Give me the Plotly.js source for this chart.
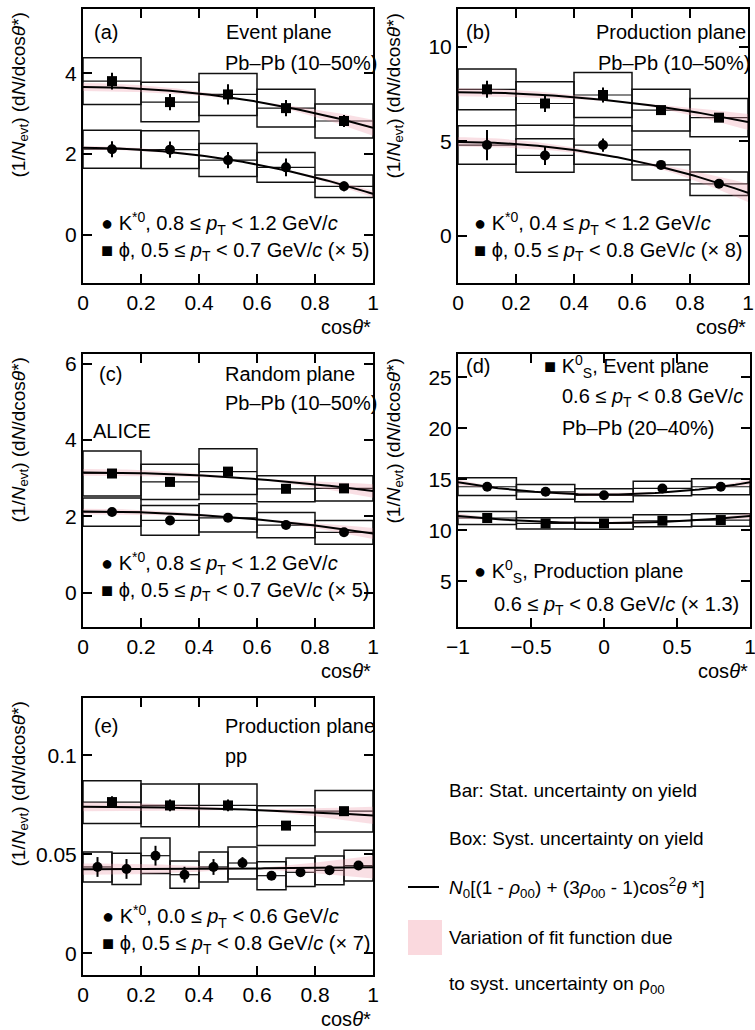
<!DOCTYPE html>
<html><head><meta charset="utf-8">
<script src="https://cdn.plot.ly/plotly-3.0.1.min.js"></script>
<style>html,body{margin:0;padding:0;background:#fff;} #chart{width:755px;height:1030px;}</style>
</head><body><div id="chart"></div>
<script>
// ---------------- DATA ----------------
// bin centres / widths
const bins5 = [0.1, 0.3, 0.5, 0.7, 0.9];
const binWidth5 = 0.2;
const bins10 = [0.05, 0.15, 0.25, 0.35, 0.45, 0.55, 0.65, 0.75, 0.85, 0.95];
const binWidth10 = 0.1;
const binsD = [-0.8, -0.4, 0, 0.4, 0.8];
const binWidthD = 0.4;

// (a) Event plane, Pb-Pb 10-50%
const aKstar = [2.12, 2.11, 1.85, 1.67, 1.20];
const aKstarStat = [0.20, 0.20, 0.20, 0.22, 0.12];
const aKstarSyst = [0.47, 0.47, 0.41, 0.37, 0.28];
const aPhi = [3.81, 3.29, 3.48, 3.14, 2.82];
const aPhiStat = [0.21, 0.20, 0.25, 0.20, 0.15];
const aPhiSyst = [0.58, 0.49, 0.52, 0.47, 0.42];
const aKstarFit = [2.66, 0.19, 0.015];   // N0, rho00, syst(rho00)
const aPhiFit = [4.99, 0.266, 0.02];

// (b) Production plane, Pb-Pb 10-50%
const bKstar = [4.80, 4.25, 4.80, 3.75, 2.75];
const bKstarStat = [0.80, 0.50, 0.35, 0.15, 0.10];
const bKstarSyst = [1.02, 0.89, 1.02, 0.80, 0.62];
const bPhi = [7.75, 7.00, 7.45, 6.65, 6.25];
const bPhiStat = [0.45, 0.45, 0.40, 0.20, 0.15];
const bPhiSyst = [1.08, 1.15, 1.19, 1.10, 1.01];
const bKstarFit = [6.1, 0.186, 0.04];
const bPhiFit = [10.6, 0.284, 0.02];

// (c) Random plane, Pb-Pb 10-50%
const cKstar = [2.11, 1.89, 1.96, 1.77, 1.58];
const cKstarStat = [0.06, 0.06, 0.06, 0.05, 0.05];
const cKstarSyst = [0.37, 0.39, 0.37, 0.33, 0.31];
const cPhi = [3.12, 2.90, 3.17, 2.72, 2.73];
const cPhiStat = [0.08, 0.08, 0.08, 0.07, 0.07];
const cPhiSyst = [0.59, 0.46, 0.60, 0.34, 0.33];
const cKstarFit = [2.90, 0.267, 0.025];
const cPhiFit = [4.48, 0.297, 0.02];

// (d) K0S, Pb-Pb 20-40%
const dProd = [14.27, 13.77, 13.43, 14.10, 14.27];
const dProdStat = [0.12, 0.12, 0.12, 0.12, 0.12];
const dProdSyst = [0.87, 0.72, 0.63, 0.72, 0.78];
const dEvent = [11.20, 10.67, 10.67, 10.93, 11.00];
const dEventStat = [0.10, 0.10, 0.10, 0.10, 0.10];
const dEventSyst = [0.63, 0.55, 0.57, 0.58, 0.62];
const dProdFit = [20.85, 0.3525, 0.007];
const dEventFit = [16.40, 0.3476, 0.008];

// (e) Production plane, pp
const eKstar = [0.0436, 0.0426, 0.0493, 0.0397, 0.0436, 0.0456, 0.0392, 0.0409, 0.0419, 0.0443];
const eKstarStat = [0.005, 0.005, 0.005, 0.004, 0.004, 0.003, 0.002, 0.002, 0.0015, 0.0015];
const eKstarSyst = [0.0076, 0.0079, 0.0090, 0.0069, 0.0076, 0.0081, 0.0071, 0.0072, 0.0073, 0.0078];
const ePhi = [0.0764, 0.0747, 0.0747, 0.0645, 0.0718];
const ePhiStat = [0.003, 0.003, 0.003, 0.0015, 0.0015];
const ePhiSyst = [0.0108, 0.0108, 0.0108, 0.0101, 0.0105];
const eKstarFit = [0.06425, 0.3385, 0.045];
const ePhiFit = [0.1088, 0.32, 0.02];

// tick labels
const xTicks01 = [0, 0.2, 0.4, 0.6, 0.8, 1];
const xTickText01 = ['0', '0.2', '0.4', '0.6', '0.8', '1'];
const xTicksD = [-1, -0.5, 0, 0.5, 1];
const xTickTextD = ['\u22121', '\u22120.5', '0', '0.5', '1'];
const yTicksA = [0, 2, 4];
const yTicksB = [0, 5, 10];
const yTicksC = [0, 2, 4, 6];
const yTicksD = [5, 10, 15, 20, 25];
const yTicksE = [0, 0.05, 0.1];
const yTickTextE = ['0', '0.05', '0.1'];

// ---------------- DRAWING ----------------
const FONT = 'Liberation Sans, Arial, Helvetica, sans-serif';
const W = 755, H = 1030;
const PX = x => x / W, PY = y => 1 - y / H;

const traces = [];
const shapes = [];
const annotations = [];

function axisNames(i) {
  return i === 1 ? { x: 'x', y: 'y', xa: 'xaxis', ya: 'yaxis' }
                 : { x: 'x' + i, y: 'y' + i, xa: 'xaxis' + i, ya: 'yaxis' + i };
}

function addSeries(i, xc, bw, y, stat, syst, symbol) {
  const a = axisNames(i);
  for (let k = 0; k < xc.length; k++) {
    const x0 = xc[k] - bw / 2, x1 = xc[k] + bw / 2;
    shapes.push({ type: 'rect', xref: a.x, yref: a.y, x0: x0, x1: x1,
      y0: y[k] - syst[k], y1: y[k] + syst[k], layer: 'below',
      line: { color: '#111', width: 1.5 }, fillcolor: 'rgba(0,0,0,0)' });
    shapes.push({ type: 'line', xref: a.x, yref: a.y, x0: x0, x1: x1,
      y0: y[k], y1: y[k], layer: 'below', line: { color: '#111', width: 1.2 } });
  }
  traces.push({ type: 'scatter', mode: 'markers', x: xc, y: y, xaxis: a.x, yaxis: a.y,
    marker: { symbol: symbol, size: 10, color: 'black' },
    error_y: { type: 'data', array: stat, visible: true, thickness: 2, width: 0, color: 'black' },
    showlegend: false, hoverinfo: 'skip' });
}

function fitFunc(N0, rho, c) { return N0 * ((1 - rho) + (3 * rho - 1) * c * c); }

function addFit(i, fit, xmin, xmax) {
  const a = axisNames(i);
  const N = 80, xs = [];
  for (let k = 0; k <= N; k++) xs.push(xmin + (xmax - xmin) * k / N);
  const up = xs.map(c => fitFunc(fit[0], fit[1] + fit[2], c));
  const lo = xs.map(c => fitFunc(fit[0], fit[1] - fit[2], c));
  traces.push({ type: 'scatter', mode: 'lines', xaxis: a.x, yaxis: a.y,
    x: xs.concat(xs.slice().reverse()), y: up.concat(lo.slice().reverse()),
    fill: 'toself', fillcolor: 'rgba(235,150,165,0.3)', line: { width: 0 },
    showlegend: false, hoverinfo: 'skip' });
  traces.push({ type: 'scatter', mode: 'lines', xaxis: a.x, yaxis: a.y,
    x: xs, y: xs.map(c => fitFunc(fit[0], fit[1], c)),
    line: { color: 'black', width: 2 }, showlegend: false, hoverinfo: 'skip' });
}

// panels
addFit(1, aPhiFit, 0, 1); addFit(1, aKstarFit, 0, 1);
addSeries(1, bins5, binWidth5, aPhi, aPhiStat, aPhiSyst, 'square');
addSeries(1, bins5, binWidth5, aKstar, aKstarStat, aKstarSyst, 'circle');

addFit(2, bPhiFit, 0, 1); addFit(2, bKstarFit, 0, 1);
addSeries(2, bins5, binWidth5, bPhi, bPhiStat, bPhiSyst, 'square');
addSeries(2, bins5, binWidth5, bKstar, bKstarStat, bKstarSyst, 'circle');

addFit(3, cPhiFit, 0, 1); addFit(3, cKstarFit, 0, 1);
addSeries(3, bins5, binWidth5, cPhi, cPhiStat, cPhiSyst, 'square');
addSeries(3, bins5, binWidth5, cKstar, cKstarStat, cKstarSyst, 'circle');

addFit(4, dProdFit, -1, 1); addFit(4, dEventFit, -1, 1);
addSeries(4, binsD, binWidthD, dProd, dProdStat, dProdSyst, 'circle');
addSeries(4, binsD, binWidthD, dEvent, dEventStat, dEventSyst, 'square');

addFit(5, ePhiFit, 0, 1); addFit(5, eKstarFit, 0, 1);
addSeries(5, bins5, binWidth5, ePhi, ePhiStat, ePhiSyst, 'square');
addSeries(5, bins10, binWidth10, eKstar, eKstarStat, eKstarSyst, 'circle');

const layout = {
  width: W, height: H, margin: { l: 0, r: 0, t: 0, b: 0 },
  paper_bgcolor: 'white', plot_bgcolor: 'white', showlegend: false,
  font: { family: FONT, color: 'black', size: 20 },
  shapes: shapes, annotations: annotations
};

function axisBase(extra) {
  return Object.assign({
    showline: true, linecolor: 'black', linewidth: 2, mirror: 'ticks',
    ticks: 'inside', ticklen: 9, tickwidth: 2, tickcolor: 'black',
    showgrid: false, zeroline: false, fixedrange: true, ticklabeloverflow: 'allow',
    tickfont: { family: FONT, size: 21, color: 'black' }, tickmode: 'array'
  }, extra);
}

const panelDefs = [
  { xd: [83, 373], yd: [9, 283], xr: [0, 1], yr: [-1.2, 5.6], xt: xTicks01, xtt: xTickText01, yt: yTicksA, ytt: yTicksA.map(String) },
  { xd: [458, 748], yd: [9, 283], xr: [0, 1], yr: [-2.5, 12], xt: xTicks01, xtt: xTickText01, yt: yTicksB, ytt: yTicksB.map(String) },
  { xd: [83, 373], yd: [354, 627], xr: [0, 1], yr: [-0.9, 6.25], xt: xTicks01, xtt: xTickText01, yt: yTicksC, ytt: yTicksC.map(String) },
  { xd: [458, 750], yd: [354, 627], xr: [-1, 1], yr: [0.5, 27.3], xt: xTicksD, xtt: xTickTextD, yt: yTicksD, ytt: yTicksD.map(String) },
  { xd: [83, 373], yd: [698, 975], xr: [0, 1], yr: [-0.011, 0.129], xt: xTicks01, xtt: xTickText01, yt: yTicksE, ytt: yTickTextE }
];

panelDefs.forEach((p, idx) => {
  const a = axisNames(idx + 1);
  layout[a.xa] = axisBase({ domain: [PX(p.xd[0]), PX(p.xd[1])], range: p.xr, anchor: a.y,
    tickvals: p.xt, ticktext: p.xtt });
  layout[a.ya] = axisBase({ domain: [PY(p.yd[1]), PY(p.yd[0])], range: p.yr, anchor: a.x,
    tickvals: p.yt, ticktext: p.ytt });

  // axis titles
  annotations.push({ xref: 'paper', yref: 'paper', x: PX(p.xd[1]), y: PY(p.yd[1] + 44),
    xanchor: 'right', yanchor: 'middle', showarrow: false,
    text: 'cos<i>\u03b8</i>*', font: { family: FONT, size: 20 } });
  annotations.push({ xref: 'paper', yref: 'paper', x: PX(p.xd[0] - 64), y: PY(p.yd[0] + 2),
    xanchor: 'center', yanchor: 'top', showarrow: false, textangle: -90,
    text: '(1/<i>N</i><sub>evt</sub>) (d<i>N</i>/dcos<i>\u03b8</i>*)', font: { family: FONT, size: 19 } });
});

function txt(x, y, s, size) {
  annotations.push({ xref: 'paper', yref: 'paper', x: PX(x), y: PY(y), xanchor: 'left', yanchor: 'middle',
    showarrow: false, text: s, font: { family: FONT, size: size || 20, color: 'black' } });
}
const PT = '<i>p</i><sub>T</sub>';
const GEV = 'GeV/<i>c</i>';
const KST = 'K<sup>*0</sup>';
const K0S = 'K<sup>0</sup><sub>S</sub>';
const PHI = '\u03d5';

// (a)
txt(92, 32, '(a)'); txt(224, 32, 'Event plane'); txt(223, 63, 'Pb\u2013Pb (10\u201350%)');
txt(99, 223, '\u25cf ' + KST + ', 0.8 \u2264 ' + PT + ' < 1.2 ' + GEV);
txt(99, 252, '\u25a0 ' + PHI + ', 0.5 \u2264 ' + PT + ' < 0.7 ' + GEV + ' (\u00d7 5)');
// (b)
txt(464, 32, '(b)'); txt(594, 32, 'Production plane'); txt(596, 63, 'Pb\u2013Pb (10\u201350%)');
txt(472, 223, '\u25cf ' + KST + ', 0.4 \u2264 ' + PT + ' < 1.2 ' + GEV);
txt(472, 252, '\u25a0 ' + PHI + ', 0.5 \u2264 ' + PT + ' < 0.8 ' + GEV + ' (\u00d7 8)');
// (c)
txt(97, 374, '(c)'); txt(223, 374, 'Random plane'); txt(223, 403, 'Pb\u2013Pb (10\u201350%)');
txt(91, 431, 'ALICE');
txt(99, 563, '\u25cf ' + KST + ', 0.8 \u2264 ' + PT + ' < 1.2 ' + GEV);
txt(99, 592, '\u25a0 ' + PHI + ', 0.5 \u2264 ' + PT + ' < 0.7 ' + GEV + ' (\u00d7 5)');
// (d)
txt(464, 366, '(d)');
txt(542, 366, '\u25a0 ' + K0S + ', Event plane');
txt(560, 398, '0.6 \u2264 ' + PT + ' < 0.8 ' + GEV);
txt(560, 428, 'Pb\u2013Pb (20\u201340%)');
txt(472, 571, '\u25cf ' + K0S + ', Production plane');
txt(492, 605, '0.6 \u2264 ' + PT + ' < 0.8 ' + GEV + ' (\u00d7 1.3)');
// (e)
txt(92, 726, '(e)'); txt(223, 726, 'Production plane'); txt(223, 756, 'pp');
txt(100, 916, '\u25cf ' + KST + ', 0.0 \u2264 ' + PT + ' < 0.6 ' + GEV);
txt(100, 944, '\u25a0 ' + PHI + ', 0.5 \u2264 ' + PT + ' < 0.8 ' + GEV + ' (\u00d7 7)');

// global legend (bottom right)
txt(447, 790, 'Bar: Stat. uncertainty on yield', 19);
txt(447, 838, 'Box: Syst. uncertainty on yield', 19);
txt(447, 887, '<i>N</i><sub>0</sub>[(1 - <i>\u03c1</i><sub>00</sub>) + (3<i>\u03c1</i><sub>00</sub> - 1)cos<sup>2</sup><i>\u03b8</i> *]', 19);
txt(447, 937, 'Variation of fit function due', 19);
txt(447, 985, 'to syst. uncertainty on \u03c1<sub>00</sub>', 19);
shapes.push({ type: 'line', xref: 'paper', yref: 'paper', x0: PX(408), x1: PX(439), y0: PY(887), y1: PY(887),
  line: { color: 'black', width: 2 } });
shapes.push({ type: 'rect', xref: 'paper', yref: 'paper', x0: PX(408), x1: PX(442), y0: PY(955), y1: PY(920),
  line: { width: 0 }, fillcolor: 'rgba(245,185,195,0.55)' });

Plotly.newPlot('chart', traces, layout, { staticPlot: true, displayModeBar: false });
</script></body></html>
